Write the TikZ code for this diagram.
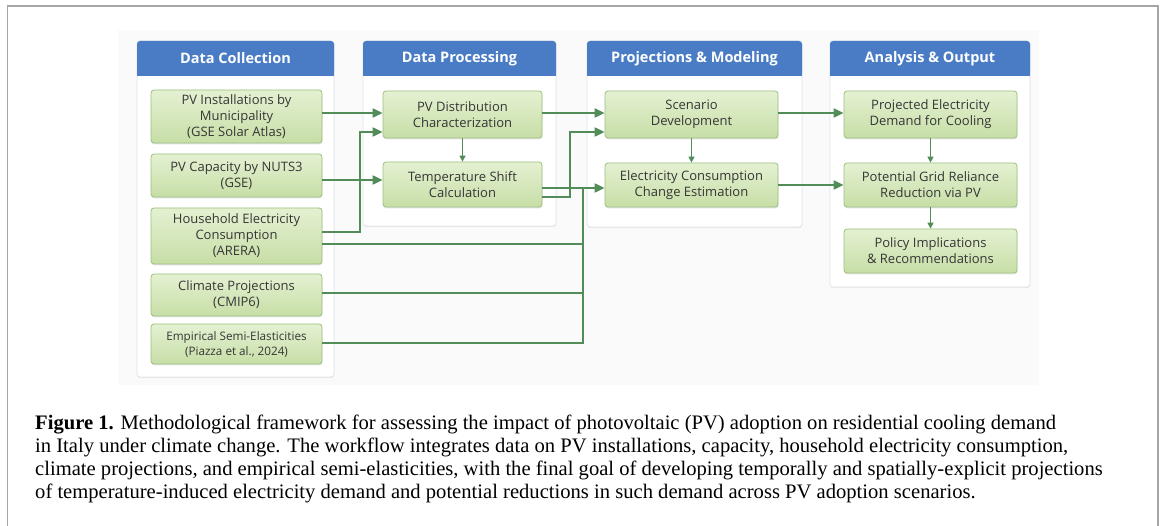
\documentclass[tikz,border=0pt]{standalone}
\usepackage{fontspec}
\setmainfont{Liberation Serif}
\newfontfamily\diagfont{Open Sans}
\usetikzlibrary{arrows.meta,shadows,calc}

\definecolor{hdrblue}{HTML}{4A7CC6}
\definecolor{boxtop}{HTML}{E4F1D2}
\definecolor{boxbot}{HTML}{C7DEA6}
\definecolor{boxedge}{HTML}{9DC07F}
\definecolor{flow}{HTML}{518C59}
\definecolor{paneledge}{HTML}{E0E3E8}
\definecolor{frameline}{HTML}{A6A6A6}
\definecolor{txt}{HTML}{363636}

\tikzset{
  gbox/.style={draw=boxedge, line width=0.8pt, rounded corners=3pt,
    top color=boxtop, bottom color=boxbot,
    drop shadow={shadow xshift=0.4pt, shadow yshift=-1.4pt, opacity=0.22},
    align=center, text=txt, inner sep=0pt,
    font=\diagfont\fontsize{13}{16}\selectfont},
  panel/.style={draw=paneledge, line width=0.7pt, fill=white, rounded corners=3pt,
    drop shadow={shadow xshift=0.3pt, shadow yshift=-1.2pt, opacity=0.12}},
  hdr/.style={fill=hdrblue, rounded corners=3pt, minimum height=35pt, inner sep=0pt,
    text=white, font=\diagfont\bfseries\fontsize{14.5}{16}\selectfont},
  arr/.style={flow, line width=2pt, -{Triangle[length=10pt,width=9pt]}},
  link/.style={flow, line width=2pt},
  darr/.style={flow, line width=1.3pt, -{Triangle[length=6pt,width=6pt]}}
}

\begin{document}
\begin{tikzpicture}[x=1pt,y=-1pt]
\useasboundingbox (0,0) rectangle (1165,526);

% page frame, open at the bottom
\draw[frameline, line width=1.3pt] (7.5,540) -- (7.5,6) -- (1158,6) -- (1158,540);

% faint backdrop of the figure area
\fill[black!1.8] (118,30) rectangle (1039,385);

% stage panels
\node[panel, minimum width=197pt, minimum height=336pt] (P1) at (235.5,209) {};
\node[panel, minimum width=193pt, minimum height=185pt] (P2) at (459.5,133.5) {};
\node[panel, minimum width=215pt, minimum height=186pt] (P3) at (694.5,134) {};
\node[panel, minimum width=200pt, minimum height=246pt] (P4) at (930,164) {};

% stage headers (rounded only on top)
\node[hdr, minimum width=197pt] (H1) at (235.5,58.5) {Data Collection};
\node[hdr, minimum width=193pt] (H2) at (459.5,58.5) {Data Processing};
\node[hdr, minimum width=215pt] (H3) at (694.5,58.5) {Projections \& Modeling};
\node[hdr, minimum width=200pt] (H4) at (930,58.5) {Analysis \& Output};
\foreach \h in {H1,H2,H3,H4}
  \fill[hdrblue] ([yshift=4pt]\h.south west) rectangle (\h.south east);

% data collection
\node[gbox, minimum width=171pt, minimum height=53pt] (b1) at (236.5,116.5) {PV Installations by\\Municipality\\(GSE Solar Atlas)};
\node[gbox, minimum width=171pt, minimum height=43pt] (b2) at (236.5,175.5) {PV Capacity by NUTS3\\(GSE)};
\node[gbox, minimum width=171pt, minimum height=56pt] (b3) at (236.5,236) {Household Electricity\\Consumption\\(ARERA)};
\node[gbox, minimum width=171pt, minimum height=42pt] (b4) at (236.5,295) {Climate Projections\\(CMIP6)};
\node[gbox, minimum width=171pt, minimum height=40pt, font=\diagfont\fontsize{11.7}{15}\selectfont] (b5) at (236.5,344) {Empirical Semi-Elasticities\\(Piazza et al., 2024)};

% data processing
\node[gbox, minimum width=159pt, minimum height=47pt] (p1) at (462.5,114.5) {PV Distribution\\Characterization};
\node[gbox, minimum width=159pt, minimum height=45pt] (p2) at (462.5,184.5) {Temperature Shift\\Calculation};

% projections and modeling
\node[gbox, minimum width=173pt, minimum height=47pt] (m1) at (691.5,114.5) {Scenario\\Development};
\node[gbox, minimum width=173pt, minimum height=44pt] (m2) at (691.5,185) {Electricity Consumption\\Change Estimation};

% analysis and output
\node[gbox, minimum width=173pt, minimum height=47pt] (o1) at (930.5,114.5) {Projected Electricity\\Demand for Cooling};
\node[gbox, minimum width=173pt, minimum height=44pt] (o2) at (930.5,185) {Potential Grid Reliance\\Reduction via PV};
\node[gbox, minimum width=173pt, minimum height=44pt] (o3) at (930.5,251) {Policy Implications\\\& Recommendations};

% junction where the three inputs join the consumption arrow
\coordinate (jn) at (583,188);

% collection -> processing
\draw[arr] ([yshift=3.5pt]b1.east) coordinate (s1) -- (s1 -| p1.west);
\draw[arr] ([yshift=4pt]b3.east) -- ++(38,0) |- ([yshift=-17.5pt]p1.west);
\draw[arr] ([yshift=-4.5pt]b2.east) coordinate (s2) -- (s2 -| p2.west);
\draw[darr] (p1.south) -- (p2.north);

% processing -> modeling
\draw[arr] ([yshift=1.5pt]p1.east) coordinate (s3) -- (s3 -| m1.west);
\draw[arr] ([yshift=-12.5pt]p2.east) -- ++(28,0) |- ([yshift=-17.5pt]m1.west);
\draw[arr] ([yshift=-3.5pt]p2.east) coordinate (s4) -- (s4 -| m2.west);

% direct inputs collected on one trunk
\draw[link] ([yshift=-8pt]b3.east) coordinate (s5) -- (s5 -| jn);
\draw[link] ([yshift=2pt]b4.east) coordinate (s6) -- (s6 -| jn);
\draw[link] ([yshift=1pt]b5.east) -| (jn);
\draw[darr] (m1.south) -- (m2.north);

% modeling -> analysis
\draw[arr] ([yshift=1.5pt]m1.east) coordinate (s7) -- (s7 -| o1.west);
\draw[arr] (m2.east) coordinate (s8) -- (s8 -| o2.west);
\draw[darr] (o1.south) -- (o2.north);
\draw[darr] (o2.south) -- (o3.north);

% caption
\node[anchor=north west, align=left, inner sep=0pt, font=\fontsize{20.6}{23}\selectfont] (cap) at (35,415)
{\textbf{Figure 1.} Methodological framework for assessing the impact of photovoltaic (PV) adoption on residential cooling demand\\
in Italy under climate change. The workflow integrates data on PV installations, capacity, household electricity consumption,\\
climate projections, and empirical semi-elasticities, with the final goal of developing temporally and spatially-explicit projections\\
of temperature-induced electricity demand and potential reductions in such demand across PV adoption scenarios.};
\end{tikzpicture}
\end{document}
